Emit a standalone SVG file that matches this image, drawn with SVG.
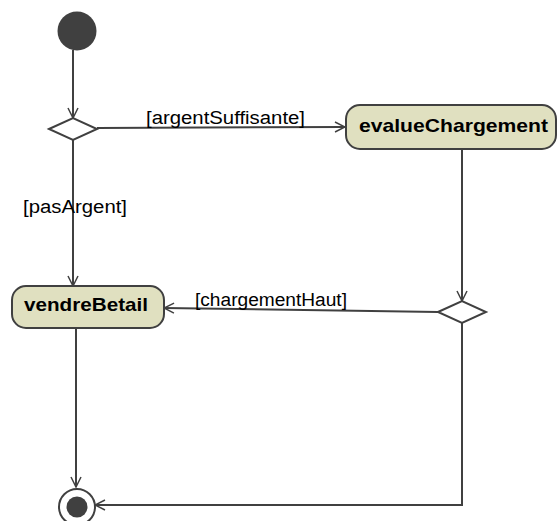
<svg xmlns="http://www.w3.org/2000/svg" width="557" height="521" viewBox="0 0 557 521">
<defs>
<marker id="arr" viewBox="0 0 12 12" refX="11" refY="6" markerWidth="12" markerHeight="12" markerUnits="userSpaceOnUse" orient="auto">
<path d="M1,1 L11,6 L1,11" fill="none" stroke="#404040" stroke-width="1.5"/>
</marker>
<style>
.e{fill:none;stroke:#404040;stroke-width:2}
.n{fill:#e0e0c0;stroke:#404040;stroke-width:2}
.d{fill:#fff;stroke:#404040;stroke-width:2}
.lb{font-family:"Liberation Sans",Arial,sans-serif;font-size:18px;fill:#000}
.nt{font-family:"Liberation Sans",Arial,sans-serif;font-size:19px;font-weight:bold;fill:#000}
</style>
</defs>
<rect width="557" height="521" fill="#fff"/>
<g id="connectors">
<path class="e" d="M73,50 L73,118" marker-end="url(#arr)"/>
<path class="e" d="M97,128 L345,127" marker-end="url(#arr)"/>
<path class="e" d="M73,140 L73,286" marker-end="url(#arr)"/>
<path class="e" d="M462,149 L462,301" marker-end="url(#arr)"/>
<path class="e" d="M438,312 L164,308" marker-end="url(#arr)"/>
<path class="e" d="M76,328 L76,487" marker-end="url(#arr)"/>
<path class="e" d="M462,323 L462,505 L95,505" marker-end="url(#arr)"/>
<text class="lb" x="146" y="124" textLength="159" lengthAdjust="spacingAndGlyphs">[argentSuffisante]</text>
<text class="lb" x="23" y="213" textLength="104" lengthAdjust="spacingAndGlyphs">[pasArgent]</text>
<text class="lb" x="195" y="306" textLength="152" lengthAdjust="spacingAndGlyphs">[chargementHaut]</text>
</g>
<g id="initial">
<circle cx="77" cy="31" r="19.5" fill="#404040"/>
</g>
<g id="decision1">
<polygon class="d" points="49,129 73,118 97,129 73,140"/>
</g>
<g id="evalueChargement">
<rect class="n" x="346" y="105" width="210" height="44" rx="14" ry="14"/>
<text class="nt" x="359" y="132" textLength="189" lengthAdjust="spacingAndGlyphs">evalueChargement</text>
</g>
<g id="decision2">
<polygon class="d" points="438,312 462,301 486,312 462,323"/>
</g>
<g id="vendreBetail">
<rect class="n" x="12" y="286" width="152" height="42" rx="14" ry="14"/>
<text class="nt" x="24" y="311" textLength="124" lengthAdjust="spacingAndGlyphs">vendreBetail</text>
</g>
<g id="final">
<circle cx="77" cy="507" r="18" fill="#fff" stroke="#404040" stroke-width="2"/>
<circle cx="77" cy="507" r="10.5" fill="#404040"/>
</g>
</svg>
